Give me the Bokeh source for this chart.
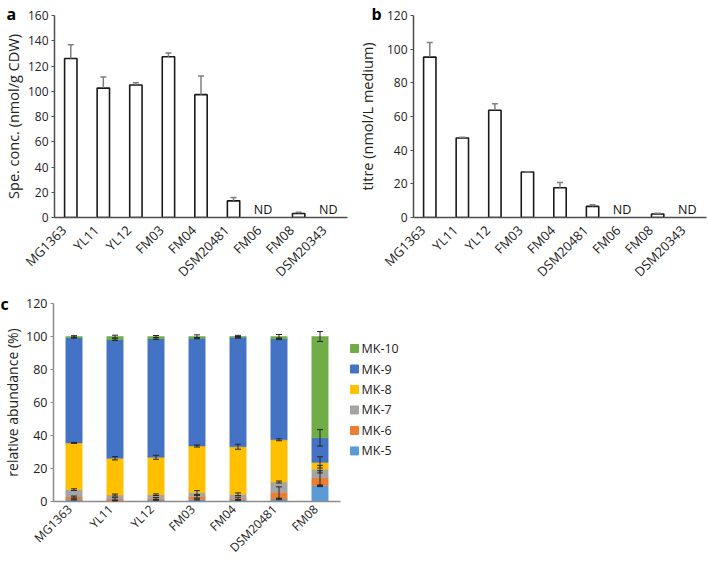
import numpy as np
from math import pi
from bokeh.plotting import figure
from bokeh.models import (ColumnDataSource, FactorRange, Range1d, FixedTicker, Whisker,
                          TeeHead, GridBox, CustomJSTickFormatter)
from bokeh.layouts import column, row
from bokeh.embed import file_html
from bokeh.resources import INLINE
from bokeh.core.properties import value

# ---------------- data ----------------
strains_ab = ["MG1363", "YL11", "YL12", "FM03", "FM04", "DSM20481", "FM06", "FM08", "DSM20343"]
spe_conc = [126, 102.5, 105, 127.3, 97.3, 13.2, None, 3.2, None]      # nmol/g CDW (None = ND)
spe_err = [10.8, 8.7, 1.7, 2.9, 14.7, 2.6, None, 1.0, None]
titre = [95.3, 47.2, 63.7, 27.0, 17.7, 6.6, None, 2.1, None]           # nmol/L medium
titre_err = [8.6, 0.4, 3.9, 0.2, 3.1, 1.0, None, 0.4, None]

strains_c = ["MG1363", "YL11", "YL12", "FM03", "FM04", "DSM20481", "FM08"]
mk_names = ["MK-5", "MK-6", "MK-7", "MK-8", "MK-9", "MK-10"]
mk5 = [1.2, 0.5, 1.0, 1.2, 1.0, 1.5, 9.5]
mk6 = [1.5, 1.0, 0.8, 1.7, 0.9, 3.9, 4.7]
mk7 = [4.5, 2.4, 2.3, 2.5, 2.5, 6.4, 5.4]
mk8 = [28.3, 22.3, 22.7, 28.2, 28.8, 25.6, 4.1]
mk9 = [63.8, 71.9, 71.9, 65.4, 66.3, 61.2, 14.9]
mk10 = [0.7, 1.9, 1.3, 1.0, 0.5, 1.4, 61.4]
mk5_err = [0.3, 0.3, 0.3, 0.3, 0.3, 0.4, 0.5]
mk6_err = [0.6, 0.8, 0.6, 0.8, 0.7, 3.5, 4.5]
mk7_err = [0.5, 0.6, 0.5, 1.2, 0.8, 0.6, 2.3]
mk8_err = [0.3, 1.0, 1.2, 0.6, 1.5, 0.6, 3.4]
mk9_err = [0.3, 0.5, 0.5, 0.4, 0.5, 0.5, 5.0]
mk10_err = [0.5, 0.8, 0.6, 1.0, 0.7, 1.2, 3.0]
mk_colors = ["#5B9BD5", "#ED7D31", "#A5A5A5", "#FFC000", "#4472C4", "#70AD47"]

panel_letters = ["a", "b", "c"]

FONT = "Open Sans"


def pad_formatter(n):
    # trailing no-break spaces move the rotated labels a little away from the axis
    return CustomJSTickFormatter(code="return String(tick) + '\\u00a0'.repeat(%d);" % n)


def style_common(p, ytick_size, xtick_size, label_size, axis_color, label_standoff):
    p.xgrid.grid_line_color = None
    p.ygrid.grid_line_color = None
    p.outline_line_color = None
    for ax in (p.xaxis[0], p.yaxis[0]):
        ax.axis_line_color = axis_color
        ax.axis_line_width = 1.5
        ax.major_label_text_font = FONT
        ax.major_label_text_color = "#222222"
        ax.axis_label_text_font = FONT
        ax.axis_label_text_font_style = "normal"
        ax.axis_label_text_color = "#222222"
        ax.axis_label_text_font_size = label_size
        ax.minor_tick_line_color = None
    p.xaxis.major_label_text_font_size = xtick_size
    p.yaxis.major_label_text_font_size = ytick_size
    p.xaxis.major_tick_line_color = None
    p.xaxis.major_tick_out = 0
    p.xaxis.major_tick_in = 0
    p.xaxis.major_label_orientation = pi / 4
    p.xaxis.major_label_standoff = 3
    p.yaxis.major_tick_line_color = axis_color
    p.yaxis.major_tick_line_width = 1.2
    p.yaxis.major_tick_out = 3
    p.yaxis.major_tick_in = 0
    p.yaxis.major_label_standoff = 3
    p.yaxis.axis_label_standoff = label_standoff


def blank_fig(w, h):
    f = figure(width=w, height=h, x_range=Range1d(0, w), y_range=Range1d(h, 0),
               output_backend="svg", toolbar_location=None, min_border=0,
               x_axis_location=None, y_axis_location=None)
    f.xgrid.grid_line_color = None
    f.ygrid.grid_line_color = None
    f.outline_line_color = None
    return f


def bar_panel(vals, errs, ymax, ylabel, w, h, bl, br, bt, bb, lstand):
    p = figure(x_range=FactorRange(*strains_ab), y_range=Range1d(0, ymax),
               width=w, height=h, output_backend="svg", toolbar_location=None,
               min_border_left=bl, min_border_right=br, min_border_top=bt, min_border_bottom=bb)
    xs = [s for s, v in zip(strains_ab, vals) if v is not None]
    tops = [v for v in vals if v is not None]
    es = [e for e, v in zip(errs, vals) if v is not None]
    src = ColumnDataSource(dict(x=xs, top=tops, upper=[t + e for t, e in zip(tops, es)]))
    p.vbar(x="x", top="top", width=0.38, source=src, fill_color="white",
           line_color="#1a1a1a", line_width=1.6)
    p.add_layout(Whisker(base="x", lower="top", upper="upper", source=src, level="overlay",
                         line_color="#7f7f7f", line_width=1.5, lower_head=None,
                         upper_head=TeeHead(size=6, line_color="#7f7f7f", line_width=1.5)))
    nd = [s for s, v in zip(strains_ab, vals) if v is None]
    p.text(x=nd, y=[0] * len(nd), text=["ND"] * len(nd), text_align="center",
           text_baseline="bottom", x_offset=-3, y_offset=0, text_font=value(FONT),
           text_font_size="12.5px", text_color="#111111")
    p.yaxis.ticker = FixedTicker(ticks=list(range(0, ymax + 1, 20)))
    p.yaxis.axis_label = ylabel
    style_common(p, "12px", "13px", "14.5px", "#4d4d4d", lstand)
    p.xaxis.formatter = pad_formatter(3)
    return p


pa = bar_panel(spe_conc, spe_err, 160, "Spe. conc. (nmol/g CDW)",
               354, 290, 52, 7, 15, 73, 2)
pb = bar_panel(titre, titre_err, 120, "titre (nmol/L medium)",
               353, 290, 59, 1, 13, 71, 7)

# ---------------- panel c ----------------
pc = figure(x_range=FactorRange(*strains_c), y_range=Range1d(0, 120),
            width=341, height=274, output_backend="svg", toolbar_location=None,
            min_border_left=49, min_border_right=1, min_border_top=13, min_border_bottom=56)
series = [mk5, mk6, mk7, mk8, mk9, mk10]
errs_c = [mk5_err, mk6_err, mk7_err, mk8_err, mk9_err, mk10_err]
data_c = {"strain": strains_c}
for name, s in zip(mk_names, series):
    data_c[name] = s
src_c = ColumnDataSource(data_c)
pc.vbar_stack(mk_names, x="strain", width=0.4, source=src_c,
              fill_color=mk_colors, line_color=mk_colors, line_width=0.5)
cum = np.cumsum(np.array(series, dtype=float), axis=0)
for i in range(len(series)):
    e = np.array(errs_c[i])
    wsrc = ColumnDataSource(dict(x=strains_c, lo=cum[i] - e, hi=cum[i] + e))
    pc.add_layout(Whisker(base="x", lower="lo", upper="hi", source=wsrc, level="overlay",
                          line_color="#262626", line_width=1,
                          upper_head=TeeHead(size=6, line_color="#262626", line_width=1),
                          lower_head=TeeHead(size=6, line_color="#262626", line_width=1)))
pc.yaxis.ticker = FixedTicker(ticks=list(range(0, 121, 20)))
pc.yaxis.axis_label = "relative abundance (%)"
style_common(pc, "12.5px", "12px", "14px", "#8c8c8c", 1)
pc.xaxis.major_label_standoff = 1
pc.xaxis.formatter = pad_formatter(2)

# ---------------- legend of panel c (separate pixel-space figure) ----------------
pl = blank_fig(366, 274)
leg_names = mk_names[::-1]
leg_colors = mk_colors[::-1]
row_y = [62.3 + 28.35 * i for i in range(len(leg_names))]
pl.scatter(x=[13] * len(leg_names), y=row_y, marker="square", size=8,
           fill_color=leg_colors, line_color=leg_colors)
pl.text(x=[20] * len(leg_names), y=row_y, text=leg_names, text_baseline="middle",
        text_align="left", text_font=value(FONT), text_font_size="12.5px",
        text_color="#222222")

main = column(row(pa, pb), row(pc, pl))

# ---------------- transparent overlay carrying the panel letters ----------------
ov = blank_fig(707, 564)
ov.background_fill_alpha = 0
ov.border_fill_alpha = 0
ov.text(x=[6, 371, 0], y=[13, 13, 303], text=panel_letters, text_baseline="alphabetic",
        text_align="left", text_font=value(FONT), text_font_style="bold",
        text_font_size="16px", text_color="#000000")

layout = GridBox(children=[(main, 0, 0), (ov, 0, 0)])
open("out.html", "w").write(file_html(layout, INLINE))
